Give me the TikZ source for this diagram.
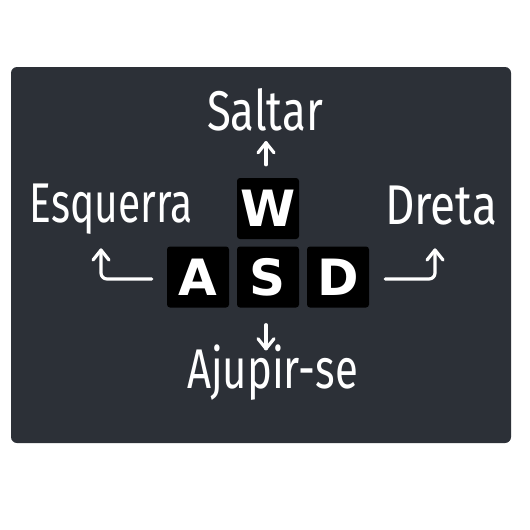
\documentclass[tikz,border=0pt]{standalone}
\usepackage{fontspec}
\usepackage{graphicx}
\setmainfont{DejaVu Sans}
\newfontfamily\labfont{Fira Sans}
\newfontfamily\keyfont{DejaVu Sans}
\usetikzlibrary{calc}
\definecolor{panel}{RGB}{44,48,55}
\tikzset{
  keybox/.style={fill=black, rounded corners=3pt, minimum width=62pt, minimum height=61pt, inner sep=0pt,
    font=\keyfont\bfseries\fontsize{50}{50}\selectfont, text=white},
  lab/.style={text=white, inner sep=0pt, anchor=base, font=\labfont\fontsize{56}{56}\selectfont},
  ln/.style={draw=white, line width=3.2pt, line cap=round, line join=round}
}
\newcommand{\fitw}[2]{\resizebox{#1}{\height}{#2}}
\newcommand{\uptip}[1]{\draw[ln] ($(#1)+(-8,10)$) -- (#1) -- ($(#1)+(8,10)$);}
\newcommand{\dntip}[1]{\draw[ln] ($(#1)+(-8,-10)$) -- (#1) -- ($(#1)+(8,-10)$);}
\begin{document}
\begin{tikzpicture}[x=1pt,y=-1pt]
\useasboundingbox (0,0) rectangle (530,530);
\fill[white] (0,0) rectangle (530,530);
\fill[panel, rounded corners=6pt] (11,67) rectangle (511,443);
\node[keybox] (W) at (268,208.5) {W};
\node[keybox] (A) at (198,277) {A};
\node[keybox] (S) at (268,277) {S};
\node[keybox] (D) at (338,277) {D};
\node[lab] (saltar) at (265,130) {\fitw{116pt}{Saltar}};
\node[lab] (esq) at (111.5,222) {\fitw{163pt}{Esquerra}};
\node[lab] (dreta) at (441,224) {\fitw{112pt}{Dreta}};
\node[lab] (ajup) at (272.5,388) {\fitw{171pt}{Ajupir-se}};
\coordinate (upS) at ($(W.north)+(-2,-13)$);
\coordinate (upE) at ($(W.north)+(-2,-35)$);
\draw[ln] (upS) -- (upE);
\uptip{upE}
\coordinate (dnS) at ($(S.south)+(-2,17)$);
\coordinate (dnE) at ($(S.south)+(-2,41)$);
\draw[ln] (dnS) -- (dnE);
\dntip{dnE}
\coordinate (lS) at ($(A.west)+(-15,2)$);
\coordinate (lE) at (101,250);
\draw[ln, rounded corners=6pt] (lS) -| (lE);
\uptip{lE}
\coordinate (rS) at ($(D.east)+(16,2)$);
\coordinate (rE) at (435,250);
\draw[ln, rounded corners=6pt] (rS) -| (rE);
\uptip{rE}
\end{tikzpicture}
\end{document}
